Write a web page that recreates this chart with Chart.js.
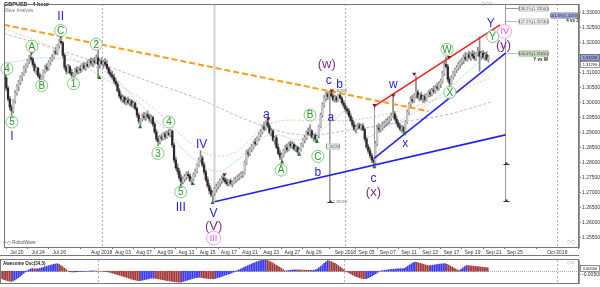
<!DOCTYPE html>
<html><head><meta charset="utf-8">
<script src="https://cdn.jsdelivr.net/npm/chart.js@4.4.0/dist/chart.umd.min.js"></script>
<style>
html,body{margin:0;padding:0;background:#fff;}
#wrap{position:relative;width:600px;height:287px;overflow:hidden;background:#fff;}
#main{position:absolute;left:0;top:0;}
#osc{position:absolute;left:0;top:256px;}
</style></head><body>
<div id="wrap"><canvas id="main" width="600" height="256"></canvas><canvas id="osc" width="600" height="31"></canvas></div>
<script>
// ---------- DATA ----------
const FIRST_CANDLE_OF_JUL20 = 7;      // candle index of Jul 20 00:00 (4-hour candles, 6 per day)
const CANDLES_PER_DAY = 6;
const tickLabels = ['Jul 20','Jul 24','Jul 26','Aug 2018','Aug 03','Aug 07','Aug 09','Aug 13','Aug 15','Aug 17','Aug 21','Aug 23','Aug 27','Aug 29','Sep 2018','Sep 05','Sep 07','Sep 11','Sep 13','Sep 17','Sep 19','Sep 21','Sep 25','Oct 2018'];
const tickDays   = [0,2,4,8,10,12,14,16,18,20,22,24,26,28,31,33,35,37,39,41,43,45,47,51];
const monthDays  = [8,31,51];
const priceTicks = [1.255,1.26,1.265,1.27,1.275,1.28,1.285,1.29,1.295,1.30,1.305,1.31,1.315,1.32,1.325,1.33];

// GBPUSD 4h candles [open, high, low, close]
const candles = [
[1.3095,1.3102,1.3078,1.3083],[1.3083,1.3090,1.3040,1.3048],[1.3048,1.3055,1.3005,1.3012],[1.3012,1.3020,1.2975,1.2985],[1.2985,1.2992,1.2958,1.2972],
[1.2972,1.3010,1.2965,1.3005],[1.3005,1.3040,1.2998,1.3032],[1.3032,1.3060,1.3025,1.3055],[1.3055,1.3075,1.3040,1.3068],[1.3068,1.3090,1.3060,1.3085],
[1.3085,1.3100,1.3072,1.3095],[1.3095,1.3122,1.3090,1.3116],[1.3116,1.3130,1.3100,1.3125],[1.3125,1.3145,1.3118,1.3140],[1.3140,1.3158,1.3130,1.3150],
[1.3150,1.3165,1.3138,1.3145],[1.3145,1.3152,1.3120,1.3128],[1.3128,1.3135,1.3102,1.3108],[1.3108,1.3120,1.3095,1.3115],[1.3115,1.3118,1.3085,1.3090],
[1.3090,1.3098,1.3072,1.3080],[1.3080,1.3092,1.3070,1.3088],[1.3088,1.3110,1.3082,1.3105],[1.3105,1.3125,1.3098,1.3118],[1.3118,1.3130,1.3105,1.3112],
[1.3112,1.3140,1.3108,1.3135],[1.3135,1.3150,1.3125,1.3145],[1.3145,1.3160,1.3138,1.3152],[1.3152,1.3175,1.3145,1.3170],[1.3170,1.3185,1.3160,1.3165],
[1.3165,1.3195,1.3160,1.3190],[1.3190,1.3212,1.3182,1.3205],[1.3205,1.3221,1.3195,1.3200],[1.3200,1.3205,1.3150,1.3158],[1.3158,1.3165,1.3110,1.3118],
[1.3118,1.3125,1.3095,1.3105],[1.3105,1.3128,1.3098,1.3120],[1.3120,1.3125,1.3095,1.3100],[1.3100,1.3112,1.3085,1.3092],[1.3092,1.3100,1.3076,1.3095],
[1.3095,1.3115,1.3088,1.3110],[1.3110,1.3120,1.3095,1.3102],[1.3102,1.3118,1.3096,1.3112],[1.3112,1.3125,1.3100,1.3108],[1.3108,1.3130,1.3105,1.3125],
[1.3125,1.3135,1.3110,1.3115],[1.3115,1.3132,1.3108,1.3128],[1.3128,1.3140,1.3118,1.3122],[1.3122,1.3145,1.3118,1.3138],[1.3138,1.3150,1.3125,1.3132],
[1.3132,1.3148,1.3120,1.3140],[1.3140,1.3152,1.3128,1.3135],[1.3135,1.3160,1.3130,1.3150],[1.3150,1.3185,1.3083,1.3128],[1.3128,1.3145,1.3115,1.3138],
[1.3138,1.3150,1.3125,1.3130],[1.3130,1.3142,1.3115,1.3135],[1.3135,1.3148,1.3122,1.3128],[1.3128,1.3140,1.3110,1.3115],[1.3115,1.3120,1.3095,1.3100],
[1.3100,1.3110,1.3085,1.3092],[1.3092,1.3105,1.3078,1.3085],[1.3085,1.3095,1.3065,1.3072],[1.3072,1.3082,1.3055,1.3062],[1.3062,1.3068,1.3035,1.3040],
[1.3040,1.3048,1.3015,1.3022],[1.3022,1.3030,1.3005,1.3012],[1.3012,1.3025,1.3000,1.3018],[1.3018,1.3022,1.2995,1.3002],[1.3002,1.3015,1.2992,1.3008],
[1.3008,1.3018,1.2995,1.3000],[1.3000,1.3012,1.2988,1.3005],[1.3005,1.3010,1.2985,1.2992],[1.2992,1.3005,1.2982,1.2998],[1.2998,1.3002,1.2975,1.2980],
[1.2980,1.2985,1.2950,1.2958],[1.2958,1.2965,1.2930,1.2938],[1.2938,1.2948,1.2922,1.2945],[1.2945,1.2962,1.2938,1.2955],[1.2955,1.2968,1.2942,1.2950],
[1.2950,1.2965,1.2940,1.2960],[1.2960,1.2972,1.2948,1.2952],[1.2952,1.2962,1.2935,1.2945],[1.2945,1.2958,1.2930,1.2950],[1.2950,1.2955,1.2920,1.2928],
[1.2928,1.2935,1.2895,1.2902],[1.2902,1.2910,1.2870,1.2878],[1.2878,1.2888,1.2856,1.2870],[1.2870,1.2890,1.2862,1.2885],[1.2885,1.2895,1.2872,1.2880],
[1.2880,1.2900,1.2875,1.2895],[1.2895,1.2902,1.2878,1.2885],[1.2885,1.2905,1.2880,1.2898],[1.2898,1.2910,1.2888,1.2892],[1.2892,1.2912,1.2885,1.2905],
[1.2905,1.2908,1.2850,1.2858],[1.2858,1.2865,1.2800,1.2808],[1.2808,1.2818,1.2775,1.2782],[1.2782,1.2795,1.2760,1.2770],[1.2770,1.2780,1.2740,1.2748],
[1.2748,1.2758,1.2718,1.2735],[1.2735,1.2752,1.2728,1.2745],[1.2745,1.2760,1.2735,1.2752],[1.2752,1.2768,1.2742,1.2760],[1.2760,1.2770,1.2748,1.2755],
[1.2755,1.2762,1.2735,1.2740],[1.2740,1.2750,1.2725,1.2745],[1.2745,1.2765,1.2738,1.2760],[1.2760,1.2778,1.2752,1.2772],[1.2772,1.2795,1.2765,1.2790],
[1.2790,1.2815,1.2785,1.2808],[1.2808,1.2838,1.2800,1.2815],[1.2815,1.2822,1.2785,1.2792],[1.2792,1.2800,1.2760,1.2768],[1.2768,1.2775,1.2735,1.2742],
[1.2742,1.2752,1.2715,1.2722],[1.2722,1.2730,1.2695,1.2705],[1.2705,1.2715,1.2685,1.2692],[1.2692,1.2705,1.2670,1.2698],[1.2698,1.2718,1.2690,1.2712],
[1.2712,1.2728,1.2700,1.2720],[1.2720,1.2735,1.2710,1.2730],[1.2730,1.2745,1.2718,1.2738],[1.2738,1.2755,1.2728,1.2748],[1.2748,1.2762,1.2735,1.2742],
[1.2742,1.2750,1.2728,1.2735],[1.2735,1.2745,1.2722,1.2728],[1.2728,1.2742,1.2720,1.2738],[1.2738,1.2745,1.2725,1.2730],[1.2730,1.2738,1.2718,1.2732],
[1.2732,1.2748,1.2728,1.2742],[1.2742,1.2752,1.2732,1.2745],[1.2745,1.2758,1.2738,1.2750],[1.2750,1.2762,1.2742,1.2755],[1.2755,1.2768,1.2748,1.2760],
[1.2760,1.2770,1.2750,1.2765],[1.2765,1.2805,1.2760,1.2798],[1.2798,1.2840,1.2792,1.2832],[1.2832,1.2845,1.2818,1.2828],[1.2828,1.2850,1.2822,1.2845],
[1.2845,1.2860,1.2835,1.2852],[1.2852,1.2872,1.2845,1.2868],[1.2868,1.2880,1.2855,1.2862],[1.2862,1.2885,1.2858,1.2880],[1.2880,1.2900,1.2872,1.2895],
[1.2895,1.2910,1.2885,1.2902],[1.2902,1.2925,1.2895,1.2918],[1.2918,1.2935,1.2905,1.2912],[1.2912,1.2940,1.2908,1.2935],[1.2935,1.2946,1.2915,1.2922],
[1.2922,1.2930,1.2895,1.2900],[1.2900,1.2915,1.2888,1.2905],[1.2905,1.2910,1.2870,1.2875],[1.2875,1.2888,1.2860,1.2882],[1.2882,1.2890,1.2845,1.2850],
[1.2850,1.2862,1.2825,1.2830],[1.2830,1.2842,1.2810,1.2818],[1.2818,1.2832,1.2802,1.2825],[1.2825,1.2845,1.2818,1.2840],[1.2840,1.2858,1.2830,1.2850],
[1.2850,1.2862,1.2835,1.2842],[1.2842,1.2868,1.2838,1.2862],[1.2862,1.2872,1.2848,1.2855],[1.2855,1.2870,1.2845,1.2860],[1.2860,1.2865,1.2840,1.2845],
[1.2845,1.2858,1.2835,1.2850],[1.2850,1.2855,1.2830,1.2835],[1.2835,1.2848,1.2825,1.2842],[1.2842,1.2865,1.2838,1.2860],[1.2860,1.2880,1.2852,1.2875],
[1.2875,1.2890,1.2865,1.2882],[1.2882,1.2905,1.2875,1.2900],[1.2900,1.2915,1.2890,1.2895],[1.2895,1.2926,1.2890,1.2905],[1.2905,1.2910,1.2880,1.2885],
[1.2885,1.2895,1.2872,1.2890],[1.2890,1.2898,1.2870,1.2878],[1.2878,1.2892,1.2866,1.2888],[1.2888,1.2925,1.2882,1.2920],[1.2920,1.2965,1.2915,1.2958],
[1.2958,1.3000,1.2950,1.2992],[1.2992,1.3025,1.2985,1.3015],[1.3015,1.3035,1.3005,1.3028],[1.3028,1.3036,1.3010,1.3020],[1.3020,1.3038,1.3015,1.3030],
[1.3030,1.3041,1.3018,1.3022],[1.3022,1.3030,1.3005,1.3010],[1.3010,1.3025,1.3002,1.3018],[1.3018,1.3022,1.3000,1.3008],[1.3008,1.3028,1.3004,1.3025],
[1.3025,1.3034,1.3012,1.3015],[1.3015,1.3020,1.2995,1.3000],[1.3000,1.3008,1.2982,1.2990],[1.2990,1.2998,1.2970,1.2978],[1.2978,1.2985,1.2962,1.2972],
[1.2972,1.2980,1.2950,1.2955],[1.2955,1.2965,1.2935,1.2940],[1.2940,1.2950,1.2918,1.2925],[1.2925,1.2935,1.2905,1.2912],[1.2912,1.2925,1.2898,1.2918],
[1.2918,1.2930,1.2910,1.2925],[1.2925,1.2932,1.2912,1.2915],[1.2915,1.2928,1.2908,1.2922],[1.2922,1.2930,1.2905,1.2910],[1.2910,1.2915,1.2870,1.2878],
[1.2878,1.2885,1.2845,1.2852],[1.2852,1.2860,1.2830,1.2838],[1.2838,1.2848,1.2815,1.2822],[1.2822,1.2830,1.2800,1.2808],[1.2808,1.2815,1.2786,1.2800],
[1.2800,1.2870,1.2795,1.2862],[1.2862,1.2925,1.2855,1.2915],[1.2915,1.2930,1.2900,1.2910],[1.2910,1.2925,1.2902,1.2918],[1.2918,1.2935,1.2908,1.2925],
[1.2925,1.2938,1.2915,1.2930],[1.2930,1.2945,1.2920,1.2935],[1.2935,1.2950,1.2925,1.2940],[1.2940,1.2955,1.2930,1.2948],[1.2948,1.2965,1.2940,1.2955],
[1.2955,1.3017,1.2950,1.2962],[1.2962,1.2970,1.2940,1.2945],[1.2945,1.2955,1.2925,1.2932],[1.2932,1.2940,1.2915,1.2920],[1.2920,1.2930,1.2905,1.2912],
[1.2912,1.2925,1.2900,1.2918],[1.2918,1.2922,1.2894,1.2905],[1.2905,1.2940,1.2900,1.2935],[1.2935,1.2975,1.2930,1.2968],[1.2968,1.3000,1.2960,1.2995],
[1.2995,1.3020,1.2985,1.3010],[1.3010,1.3025,1.2998,1.3005],[1.3005,1.3030,1.3000,1.3025],[1.3025,1.3089,1.3015,1.3035],[1.3035,1.3042,1.3012,1.3018],
[1.3018,1.3030,1.3005,1.3025],[1.3025,1.3035,1.3008,1.3012],[1.3012,1.3025,1.3000,1.3020],[1.3020,1.3028,1.3002,1.3010],[1.3010,1.3030,1.3005,1.3025],
[1.3025,1.3040,1.3018,1.3035],[1.3035,1.3045,1.3020,1.3028],[1.3028,1.3048,1.3022,1.3042],[1.3042,1.3055,1.3030,1.3038],[1.3038,1.3058,1.3032,1.3052],
[1.3052,1.3065,1.3040,1.3048],[1.3048,1.3070,1.3042,1.3062],[1.3062,1.3078,1.3050,1.3072],[1.3072,1.3105,1.3065,1.3098],[1.3098,1.3135,1.3090,1.3128],
[1.3128,1.3153,1.3115,1.3120],[1.3120,1.3128,1.3070,1.3078],[1.3078,1.3085,1.3050,1.3065],[1.3065,1.3090,1.3060,1.3085],[1.3085,1.3105,1.3078,1.3098],
[1.3098,1.3115,1.3088,1.3110],[1.3110,1.3125,1.3100,1.3118],[1.3118,1.3135,1.3108,1.3128],[1.3128,1.3142,1.3115,1.3135],[1.3135,1.3150,1.3125,1.3140],
[1.3140,1.3160,1.3130,1.3152],[1.3152,1.3168,1.3140,1.3145],[1.3145,1.3165,1.3138,1.3160],[1.3160,1.3172,1.3145,1.3150],[1.3150,1.3168,1.3140,1.3162],
[1.3162,1.3175,1.3148,1.3155],[1.3155,1.3170,1.3142,1.3148],[1.3148,1.3168,1.3140,1.3162],[1.3162,1.3185,1.3155,1.3170],[1.3170,1.3220,1.3105,1.3155],
[1.3155,1.3172,1.3145,1.3165],[1.3165,1.3175,1.3148,1.3152],[1.3152,1.3168,1.3142,1.3160],[1.3160,1.3170,1.3140,1.3145],[1.3145,1.3158,1.3135,1.3150]
];

// Awesome Oscillator (34,5), one value per candle
const aoValues = [
-0.0100,-0.0112,-0.0122,-0.0132,-0.0140,-0.0146,-0.0150,
-0.0142,-0.0128,-0.0112,-0.0095,-0.0076,-0.0055,-0.0032,-0.0010,
0.0008,0.0022,0.0035,
0.0038,0.0036,0.0034,0.0036,0.0040,
0.0048,0.0056,0.0064,0.0072,0.0080,0.0088,0.0095,0.0101,0.0106,0.0110,
0.0100,0.0084,0.0064,0.0044,0.0022,0.0002,
-0.0006,-0.0010,-0.0012,-0.0010,-0.0008,-0.0006,-0.0004,-0.0003,-0.0002,-0.0002,0.0000,0.0002,0.0004,0.0005,0.0004,0.0002,0.0001,0.0000,
-0.0001,-0.0003,-0.0005,-0.0008,-0.0012,-0.0020,
-0.0028,-0.0036,-0.0044,-0.0052,-0.0060,-0.0068,-0.0076,-0.0084,-0.0092,-0.0100,-0.0108,-0.0116,-0.0124,-0.0130,-0.0136,-0.0140,
-0.0136,-0.0130,-0.0124,-0.0118,-0.0112,-0.0104,
-0.0102,-0.0101,-0.0103,
-0.0108,-0.0113,-0.0118,-0.0123,-0.0128,-0.0133,-0.0138,-0.0142,-0.0146,-0.0150,-0.0154,-0.0157,-0.0159,-0.0160,
-0.0155,-0.0148,-0.0140,-0.0132,-0.0124,-0.0116,-0.0108,-0.0100,-0.0094,-0.0090,-0.0088,
-0.0092,-0.0096,-0.0100,-0.0104,-0.0107,-0.0109,-0.0110,-0.0111,
-0.0104,-0.0096,-0.0088,-0.0079,-0.0070,-0.0061,-0.0052,-0.0043,-0.0034,-0.0024,-0.0014,-0.0003,
0.0008,0.0020,0.0032,0.0044,0.0056,0.0068,0.0080,0.0092,0.0104,0.0115,0.0126,0.0136,0.0145,0.0153,0.0159,0.0163,0.0165,
0.0158,0.0148,0.0136,0.0122,0.0106,0.0090,0.0074,0.0058,0.0040,0.0022,0.0005,
0.0008,0.0012,0.0015,0.0017,0.0019,0.0020,0.0020,0.0020,
0.0018,0.0016,0.0014,0.0013,0.0012,0.0012,0.0013,0.0015,0.0020,
0.0032,0.0050,0.0070,0.0092,0.0115,0.0138,0.0155,
0.0150,0.0140,0.0128,0.0114,0.0098,0.0080,0.0062,0.0042,0.0022,0.0002,
-0.0012,-0.0026,-0.0040,-0.0054,-0.0066,-0.0078,-0.0088,-0.0096,-0.0103,-0.0108,-0.0110,
-0.0104,-0.0094,-0.0082,-0.0068,-0.0052,-0.0036,-0.0018,0.0000,
0.0005,0.0010,0.0014,0.0018,0.0022,0.0025,0.0028,0.0030,0.0032,0.0034,0.0036,0.0037,0.0038,0.0040,
0.0056,0.0074,0.0092,0.0108,0.0122,0.0135,
0.0130,0.0124,0.0116,0.0108,0.0100,0.0092,0.0086,0.0080,
0.0084,0.0088,0.0092,0.0096,0.0100,0.0104,0.0107,0.0109,0.0110,
0.0102,0.0090,0.0076,0.0062,0.0046,0.0032,0.0018,0.0010,
0.0028,0.0048,0.0068,0.0085,
0.0083,0.0080,0.0077,0.0074,0.0071,0.0068,0.0065,0.0062,0.0059,0.0056,0.0053,0.0050
];

// Moving averages: [candle index, price]
const maPink   = [[-0.3,1.3231],[27.8,1.3182],[56,1.3126],[84.1,1.3066],[112.2,1.3007],[140.3,1.2935],[168.4,1.2892],[196.6,1.2909],[224.7,1.2935],[248.9,1.2958],[275.3,1.3001]];
const maBlue   = [[-0.3,1.3132],[27.8,1.3149],[56,1.3106],[75.7,1.3001],[89.7,1.2918],[106.6,1.2813],[120.6,1.2770],[130.8,1.2803],[149.9,1.2892],[168.4,1.2876],[187,1.2941],[192.6,1.2968],[206.1,1.2886],[211.8,1.2909],[224.7,1.2941],[247.2,1.3027],[269.7,1.3139],[275.3,1.3149]];
const maOrange = [[-0.3,1.3247],[27.8,1.3182],[56,1.3083],[80.1,1.3001],[112.2,1.2836],[129.1,1.2830],[149.9,1.2928],[174.1,1.2941],[196.6,1.2941],[224.7,1.2974],[247.2,1.3017],[275.3,1.3083]];

// Trend lines [candle index, price]
const trendOrange  = [[-0.3,1.3260],[240,1.2971]];
const trendRed     = [[209.3,1.2987],[280.6,1.3260]];
const trendBlueUp  = [[209.3,1.2813],[283.7,1.3165]];
const trendBlueLow = [[118.9,1.2668],[283.7,1.2892]];

// Vertical measuring lines [candle index, top price, bottom price]
const vLines = [[118.9,1.3330,1.2672,'#d2d2d2',2],[184.2,1.3040,1.2668,'#9a9a9a',1],[209.5,1.2987,1.2787,'#9a9a9a',1],[283.7,1.3330,1.2672,'#9a9a9a',1]];

// Pivot markers
const highMarks = [[15.5,1.3168],[31.8,1.3221],[53.2,1.3188],[124.6,1.2760],[149.3,1.2945],[185.3,1.3040],[209.5,1.2991],[220.2,1.3024],[232,1.3096],[251.7,1.3152]];
const lowMarks  = [[4.2,1.2951],[21.1,1.3070],[39.1,1.3076],[53.7,1.3083],[76.8,1.2918],[99.8,1.2721],[106.6,1.2728],[117.8,1.2665],[157.2,1.2800],[166.8,1.2826],[176.9,1.2869],[209.5,1.2784],[226.4,1.2895],[252.2,1.3050]];

// Wave labels [text, candle index, price, colour, circled]
const waveLabels = [
['II',31.8,1.3287,'B',0],['C',31.8,1.3241,'G',1],['A',15.5,1.3188,'G',1],['4',1.4,1.3113,'G',1],['B',21.1,1.3057,'G',1],
['2',52.0,1.3195,'G',1],['1',39.1,1.3063,'G',1],['5',4.2,1.2935,'G',1],['I',4.2,1.2886,'B',0],
['(w)',182.5,1.3126,'P',0],['c',183.6,1.3073,'B',0],['b',189.8,1.3060,'B',0],['w',220.2,1.3060,'B',0],
['W',250.6,1.3178,'G',1],['Y',276.4,1.3221,'G',1],['Y',275.3,1.3264,'B',0],['IV',283.2,1.3238,'K',1],['(y)',282.6,1.3191,'P',0],
['a',148.2,1.2958,'B',0],['B',173.0,1.2958,'G',1],['a',184.8,1.2951,'B',0],['C',177.4,1.2820,'G',1],['A',156.6,1.2774,'G',1],['b',177.4,1.2767,'B',0],
['X',252.2,1.3034,'G',1],['x',226.9,1.2862,'B',0],['c',208.9,1.2747,'B',0],['(x)',208.9,1.2698,'P',0],
['4',93.1,1.2935,'G',1],['3',86.9,1.2830,'G',1],['5',99.8,1.2701,'G',1],['III',99.8,1.2649,'B',0],['IV',111.6,1.2859,'B',0],
['V',118.4,1.2629,'B',0],['(V)',118.4,1.2586,'P',0],['III',118.4,1.2547,'K',1]
];

// Fibonacci projection boxes [text, price]
const fibBoxes = [['138.2%(1.33160)',1.3316],['127.2%(1.32740)',1.3274],['100.0%(1.31650)',1.3165]];
const fibBlue  = ['161.8%(1.32935)',1.3293];
const priceBoxes = [[1.3152,'1.31520'],[1.3129,'1.31290']];

// ---------- CHART ----------
const FONT='"Liberation Sans", Arial, sans-serif';
const COL={B:'#1e1ee6',G:'#2b962b',P:'#7e2a8a',K:'#e846e8'};
const X_MIN=-0.28, X_MAX=325.3;
const tickIndex = d => FIRST_CANDLE_OF_JUL20 + CANDLES_PER_DAY*d;
const pts = arr => arr.map(p=>({x:p[0],y:p[1]}));

const wickData = candles.map((c,i)=>({x:i,y:[c[2],c[1]]}));
const bodyData = candles.map((c,i)=>({x:i,y:[Math.min(c[0],c[3]),Math.max(c[0],c[3])]}));
const bodyCols = candles.map(c=>c[3]>=c[0]?'#c4c4c4':'#2a2a2a');

const lineDs = (data,color,width,dash,order,tension)=>({type:'line',data:pts(data),borderColor:color,borderWidth:width,borderDash:dash||[],pointRadius:0,fill:false,tension:tension||0,order:order});

const datasets = [
  lineDs(maPink,'rgba(205,140,205,0.75)',1,[3,2],20,0.4),
  lineDs(maBlue,'rgba(120,150,240,0.6)',1,[1,1],20,0.4),
  lineDs(maOrange,'rgba(245,160,110,0.65)',1,[2,2],20,0.4),
  ...vLines.map(v=>({type:'line',data:[{x:v[0],y:v[1]},{x:v[0],y:v[2]}],borderColor:v[3],borderWidth:v[4],pointRadius:0,order:19})),
  {type:'bar',data:wickData,backgroundColor:'#8a8a8a',barThickness:1,grouped:false,order:12},
  {type:'bar',data:bodyData,backgroundColor:bodyCols,barThickness:1.6,grouped:false,order:11,minBarLength:1},
  lineDs(trendOrange,'#ff9a1a',2,[6,3],5),
  lineDs(trendRed,'#f02020',1.6,[],5),
  lineDs(trendBlueUp,'#2222ee',1.6,[],5),
  lineDs(trendBlueLow,'#2222ee',1.6,[],5),
  {type:'line',data:pts(highMarks),showLine:false,pointStyle:'triangle',rotation:180,pointRadius:2.4,backgroundColor:'#7a1d1d',borderWidth:0,order:4},
  {type:'line',data:pts(lowMarks),showLine:false,pointStyle:'triangle',pointRadius:2.4,backgroundColor:'#1d7a1d',borderWidth:0,order:4}
];

function boxText(ctx,x,y,w,h,text,bg,border,color){
  ctx.fillStyle=bg; ctx.fillRect(x,y,w,h);
  ctx.strokeStyle=border; ctx.lineWidth=0.6; ctx.strokeRect(x+0.5,y+0.5,w-1,h-1);
  ctx.fillStyle=color; ctx.font='4px '+FONT; ctx.textAlign='center'; ctx.textBaseline='middle';
  ctx.fillText(text,x+w/2,y+h/2+0.3);
}

const overlay = {
  id:'overlay',
  beforeDatasetsDraw(chart){
    const {ctx,chartArea:a,scales:{x}}=chart;
    ctx.save(); ctx.strokeStyle='#b4b4b4'; ctx.lineWidth=1; ctx.setLineDash([2,2]);
    monthDays.forEach(d=>{const px=Math.round(x.getPixelForValue(tickIndex(d)))+0.5;ctx.beginPath();ctx.moveTo(px,a.top);ctx.lineTo(px,a.bottom);ctx.stroke();});
    ctx.restore();
  },
  afterDatasetsDraw(chart){
    const {ctx,chartArea:a,scales:{x,y}}=chart;
    ctx.save();
    // wave labels
    waveLabels.forEach(l=>{
      const px=x.getPixelForValue(l[1]), py=y.getPixelForValue(l[2]), col=COL[l[3]];
      ctx.textAlign='center'; ctx.textBaseline='middle';
      if(l[4]){
        const r = l[3]==='K' ? 7 : 6;
        ctx.beginPath(); ctx.arc(px,py,r,0,Math.PI*2); ctx.fillStyle='rgba(255,255,255,0.9)'; ctx.fill();
        ctx.lineWidth=1; ctx.strokeStyle=l[3]==='K'?'#f3a0f3':'#7fc97f'; ctx.stroke();
        ctx.fillStyle=col; ctx.font=(l[0].length>1?'9px ':'10px ')+FONT; ctx.fillText(l[0],px,py+0.5);
      } else {
        ctx.fillStyle=col; ctx.font=(l[3]==='P'?'13px ':'12px ')+FONT; ctx.fillText(l[0],px,py);
      }
    });
    // fib boxes from the measuring line
    const vx=x.getPixelForValue(283.7);
    ctx.strokeStyle='#9a9a9a'; ctx.lineWidth=1;
    fibBoxes.forEach((f,k)=>{
      const py=Math.round(y.getPixelForValue(f[1]));
      ctx.beginPath(); ctx.moveTo(vx,py+0.5); ctx.lineTo(vx+13,py+0.5); ctx.stroke();
      const green = f[0].indexOf('100.0')===0;
      boxText(ctx,vx+13,py-2.5,30,6,f[0],green?'#cfe8c4':'#ffffff','#8a8a8a','#333');
    });
    {const py=Math.round(y.getPixelForValue(fibBlue[1])); boxText(ctx,vx+45,py-2.5,29,6,fibBlue[0],'#a9b2dc','#7a82b0','#223');}
    ctx.fillStyle='#222'; ctx.font='bold 4.5px '+FONT; ctx.textAlign='center'; ctx.textBaseline='middle';
    ctx.fillText('4 vs 3',vx+67,y.getPixelForValue(1.3274));
    ctx.fillText('Y vs W',vx+35,y.getPixelForValue(1.3143));
    // ticks on measuring lines
    ctx.strokeStyle='#333'; ctx.lineWidth=1;
    [[283.7,1.2793],[283.7,1.2672],[184.2,1.2668]].forEach(t=>{const px=Math.round(x.getPixelForValue(t[0]))+0.5,py=Math.round(y.getPixelForValue(t[1]))+0.5;ctx.beginPath();ctx.moveTo(px-3,py);ctx.lineTo(px+3,py);ctx.stroke();ctx.fillStyle='#333';ctx.fillRect(px-1,py-2,2,2);});
    ctx.fillStyle='#666'; ctx.font='4px '+FONT; ctx.textAlign='left';
    ctx.fillText('1.26510',x.getPixelForValue(184.2)+3,y.getPixelForValue(1.2668));
    ctx.fillText('1.30400',x.getPixelForValue(184.2)+3,y.getPixelForValue(1.3040));
    boxText(ctx,x.getPixelForValue(184.2)-4,y.getPixelForValue(1.2853)-3,14,6,'1.28283','#f4f4f4','#999','#555');
    // price boxes on the axis
    priceBoxes.forEach((b,k)=>{const py=Math.round(y.getPixelForValue(b[0]));boxText(ctx,a.right+1,py-3,20,7,b[1],k===0?'#9aa5d6':'#ffffff','#555','#111');});
    // titles
    ctx.textAlign='left'; ctx.textBaseline='middle';
    ctx.fillStyle='#222'; ctx.font='bold 5.5px '+FONT; ctx.fillText('GBPUSD - 4 hour',4,4);
    ctx.fillStyle='#777'; ctx.font='4.5px '+FONT; ctx.fillText('Wave Analysis',4,11);
    ctx.fillStyle='#555'; ctx.font='4.5px '+FONT; ctx.fillText('\u25C7\u25C7 RobotWave',3,a.bottom-4);
    ctx.fillStyle='#999'; ctx.font='5px '+FONT; ctx.fillText('\u25C7\u25C7',a.right-12,a.bottom-5);
    ctx.fillText('\u25C7\u25C7\u25C7',x.getPixelForValue(270),4);
    // frame
    ctx.strokeStyle='#777'; ctx.lineWidth=1; ctx.setLineDash([]);
    ctx.strokeRect(a.left+0.5,a.top+0.5,a.right-a.left-1,a.bottom-a.top);
    ctx.beginPath(); ctx.moveTo(0,chart.height-0.5); ctx.lineTo(a.right,chart.height-0.5); ctx.stroke();
    ctx.restore();
  }
};

Chart.defaults.font.family=FONT;
new Chart(document.getElementById('main'),{
  type:'bar',
  data:{datasets},
  options:{
    responsive:false, animation:false, events:[],
    layout:{padding:0},
    plugins:{legend:{display:false},tooltip:{enabled:false}},
    scales:{
      x:{type:'linear',min:X_MIN,max:X_MAX,offset:false,
         afterBuildTicks:s=>{s.ticks=tickDays.map(d=>({value:tickIndex(d)}));},
         ticks:{callback:(v,i)=>tickLabels[i],font:{size:5},color:'#333',maxRotation:0,minRotation:0,autoSkip:false,padding:1},
         grid:{display:true,drawOnChartArea:false,tickLength:2,color:'#777'},
         border:{display:true,color:'#777'},
         afterFit:s=>{s.height=9;}},
      y:{type:'linear',position:'right',min:1.2517,max:1.33296,
         afterBuildTicks:s=>{s.ticks=priceTicks.map(v=>({value:v}));},
         ticks:{callback:v=>v.toFixed(5),font:{size:5},color:'#333',padding:1},
         grid:{display:true,drawOnChartArea:false,tickLength:2,color:'#888'},
         border:{display:true,color:'#999',dash:[1,1]},
         afterFit:s=>{s.width=21;}}
    }
  },
  plugins:[overlay]
});

// ---------- OSCILLATOR ----------
const aoData = aoValues.map((v,i)=>({x:i,y:v}));
const aoCols = aoValues.map((v,i)=> (i===0 || v>aoValues[i-1]) ? '#3a3aee' : '#a23a3a');
const oscOverlay = {
  id:'oscOverlay',
  beforeDatasetsDraw(chart){
    const {ctx,chartArea:a,scales:{x,y}}=chart;
    ctx.save(); ctx.strokeStyle='#b4b4b4'; ctx.lineWidth=1; ctx.setLineDash([2,2]);
    monthDays.forEach(d=>{const px=Math.round(x.getPixelForValue(tickIndex(d)))+0.5;ctx.beginPath();ctx.moveTo(px,a.top);ctx.lineTo(px,a.bottom);ctx.stroke();});
    const zy=Math.round(y.getPixelForValue(0))+0.5; ctx.strokeStyle='#aaa'; ctx.setLineDash([1,1]);
    ctx.beginPath();ctx.moveTo(a.left,zy);ctx.lineTo(a.right,zy);ctx.stroke();
    ctx.restore();
  },
  afterDatasetsDraw(chart){
    const {ctx,chartArea:a,scales:{y}}=chart;
    ctx.save();
    ctx.textAlign='left'; ctx.textBaseline='middle';
    ctx.fillStyle='#222'; ctx.font='bold 4.5px '+FONT; ctx.fillText('Awesome Osc(34,5)',3,a.top+4);
    ctx.fillStyle='#999'; ctx.font='5px '+FONT; ctx.fillText('\u25C7\u25A1',a.right-12,a.top+3);
    const last=aoValues[aoValues.length-1], py=Math.round(y.getPixelForValue(last));
    boxText(ctx,a.right+1,py-3,20,7,last.toFixed(5),'#ffffff','#444','#111');
    ctx.strokeStyle='#777'; ctx.lineWidth=1;
    ctx.strokeRect(a.left+0.5,a.top-0.5,a.right-a.left-1,a.bottom-a.top+1);
    ctx.restore();
  }
};
new Chart(document.getElementById('osc'),{
  type:'bar',
  data:{datasets:[{data:aoData,backgroundColor:aoCols,barThickness:1,grouped:false}]},
  options:{
    responsive:false, animation:false, events:[],
    layout:{padding:{top:1,bottom:2,left:0,right:0}},
    plugins:{legend:{display:false},tooltip:{enabled:false}},
    scales:{
      x:{type:'linear',min:X_MIN,max:X_MAX,offset:false,display:false},
      y:{type:'linear',position:'right',min:-0.0172,max:0.0164,
         afterBuildTicks:s=>{s.ticks=[{value:-0.005}];},
         ticks:{callback:v=>v.toFixed(5),font:{size:5},color:'#333',padding:1},
         grid:{display:true,drawOnChartArea:false,tickLength:2,color:'#888'},
         border:{display:true,color:'#999',dash:[1,1]},
         afterFit:s=>{s.width=21;}}
    }
  },
  plugins:[oscOverlay]
});
</script>
</body></html>
